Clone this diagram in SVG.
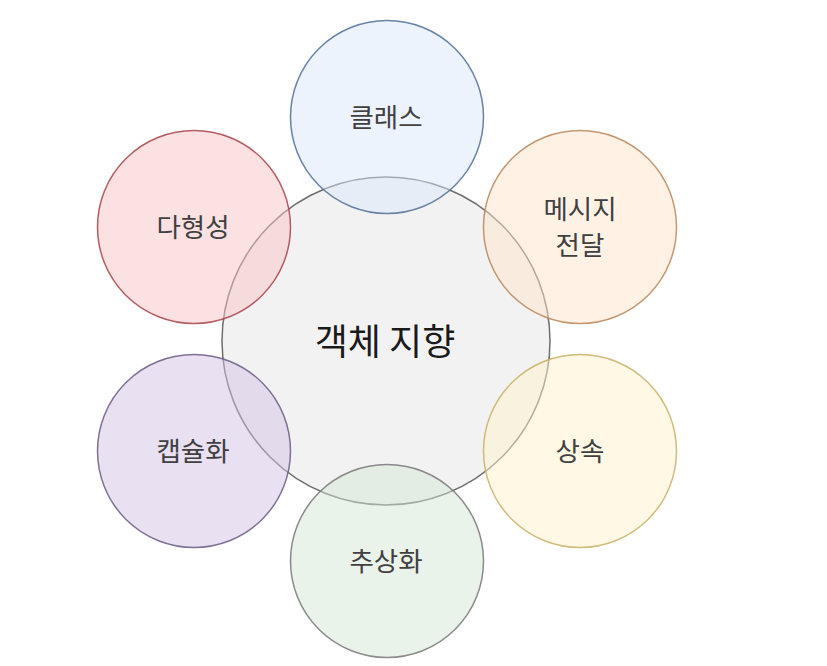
<svg xmlns="http://www.w3.org/2000/svg" width="827" height="666" viewBox="0 0 827 666">
<style>
.c{stroke-width:1.5;fill-opacity:0.5;stroke-opacity:0.85}
.t{font-family:"Noto Sans CJK KR","Noto Sans",sans-serif;font-size:26.5px;fill:#404040;text-anchor:middle;dominant-baseline:central}
.big{font-size:36px;fill:#1a1a1a}
</style>
<rect width="827" height="666" fill="#ffffff"/>
<g id="center">
<circle class="c" cx="386" cy="341" r="164" fill="#e6e6e6" stroke="#555555"/>
<text class="t big" x="385" y="339">객체 지향</text>
</g>
<g id="class">
<circle class="c" cx="387" cy="117" r="96.5" fill="#dae8fc" stroke="#4f6f95"/>
<text class="t" x="386" y="115">클래스</text>
</g>
<g id="message">
<circle class="c" cx="580" cy="227" r="96.5" fill="#ffe6cc" stroke="#b8865a"/>
<text class="t" x="580" y="207">메시지</text>
<text class="t" x="580" y="243">전달</text>
</g>
<g id="inherit">
<circle class="c" cx="580" cy="451" r="96.5" fill="#fff2cc" stroke="#c8b066"/>
<text class="t" x="580" y="449">상속</text>
</g>
<g id="abstract">
<circle class="c" cx="387" cy="561" r="96.5" fill="#d5e8d4" stroke="#777777"/>
<text class="t" x="386" y="559">추상화</text>
</g>
<g id="encap">
<circle class="c" cx="194" cy="451" r="96.5" fill="#d4c4e4" stroke="#6b5a85"/>
<text class="t" x="193" y="449">캡슐화</text>
</g>
<g id="poly">
<circle class="c" cx="194" cy="227" r="96.5" fill="#f8c4c4" stroke="#a8424a"/>
<text class="t" x="193" y="225">다형성</text>
</g>
<g id="connectors"></g>
</svg>
